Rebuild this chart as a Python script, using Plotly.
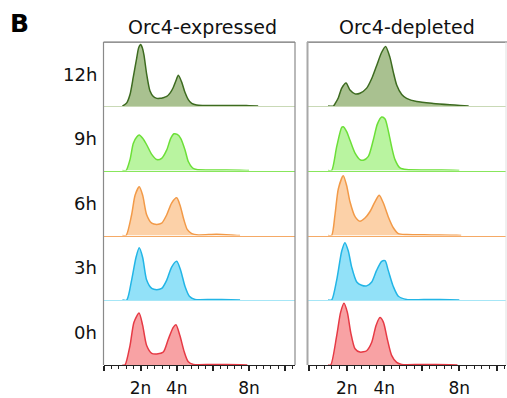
import plotly.graph_objects as go

W, H = 507, 398

TIMES = ["12h", "9h", "6h", "3h", "0h"]
CONDITIONS = ["Orc4-expressed", "Orc4-depleted"]
TICK_VALS = [0, 2, 4, 6, 8, 10]
TICK_TEXT = ["", "2n", "4n", "", "8n", ""]

# DNA content (units of n) and relative cell count
X_EXP_12H = [1.0, 1.24, 1.42, 1.60, 1.79, 1.90, 2.01, 2.10, 2.19, 2.34, 2.52, 2.71, 2.90, 3.08, 3.25, 3.45, 3.65, 3.81, 3.95, 4.09, 4.28, 4.46, 4.64, 4.83, 5.10, 5.5, 6.5, 7.5, 8.0, 8.5]
Y_EXP_12H = [0, 0.05, 0.18, 0.45, 0.75, 0.91, 0.96, 0.91, 0.80, 0.50, 0.24, 0.15, 0.12, 0.12, 0.13, 0.15, 0.21, 0.29, 0.39, 0.48, 0.37, 0.21, 0.10, 0.04, 0.015, 0.01, 0.01, 0.01, 0.005, 0]
X_DEP_12H = [1.0, 1.28, 1.40, 1.55, 1.73, 1.96, 2.17, 2.44, 2.70, 3.06, 3.33, 3.59, 3.86, 4.07, 4.30, 4.48, 4.66, 4.93, 5.19, 5.73, 6.61, 7.50, 8.04, 8.5]
Y_DEP_12H = [0, 0, 0.05, 0.13, 0.28, 0.36, 0.25, 0.19, 0.20, 0.28, 0.43, 0.63, 0.84, 0.93, 0.76, 0.53, 0.33, 0.18, 0.12, 0.07, 0.04, 0.02, 0.01, 0]

X_EXP_9H = [1.0, 1.20, 1.42, 1.60, 1.79, 1.93, 2.12, 2.34, 2.62, 2.90, 3.17, 3.45, 3.67, 3.85, 4.03, 4.22, 4.46, 4.64, 4.88, 5.10, 6.0, 7.5, 8.0]
Y_EXP_9H = [0, 0, 0.17, 0.42, 0.52, 0.55, 0.50, 0.40, 0.25, 0.17, 0.19, 0.32, 0.50, 0.57, 0.56, 0.50, 0.32, 0.14, 0.04, 0.015, 0.01, 0.005, 0]
X_DEP_9H = [1.0, 1.19, 1.46, 1.73, 1.81, 2.00, 2.17, 2.44, 2.70, 2.88, 3.15, 3.41, 3.63, 3.86, 4.04, 4.21, 4.39, 4.57, 4.84, 5.19, 6.5, 7.66, 8.0]
Y_DEP_9H = [0, 0, 0.37, 0.67, 0.68, 0.60, 0.47, 0.27, 0.17, 0.16, 0.22, 0.47, 0.72, 0.83, 0.80, 0.62, 0.37, 0.17, 0.04, 0.015, 0.01, 0.005, 0]

X_EXP_6H = [1.0, 1.20, 1.51, 1.70, 1.93, 2.12, 2.34, 2.62, 2.90, 3.17, 3.45, 3.72, 4.00, 4.18, 4.40, 4.59, 4.83, 5.2, 6.2, 7.0, 7.5]
Y_EXP_6H = [0, 0, 0.32, 0.62, 0.75, 0.62, 0.32, 0.19, 0.17, 0.19, 0.32, 0.50, 0.58, 0.47, 0.24, 0.09, 0.03, 0.01, 0.02, 0.01, 0]
X_DEP_6H = [1.0, 1.19, 1.37, 1.55, 1.81, 1.99, 2.17, 2.44, 2.70, 2.97, 3.24, 3.50, 3.73, 3.95, 4.21, 4.48, 4.75, 5.2, 6.5, 7.86, 8.1]
Y_DEP_6H = [0, 0, 0.32, 0.72, 0.92, 0.77, 0.52, 0.29, 0.22, 0.27, 0.37, 0.52, 0.62, 0.50, 0.29, 0.12, 0.03, 0.015, 0.01, 0.005, 0]

X_EXP_3H = [1.0, 1.24, 1.51, 1.75, 1.93, 2.12, 2.34, 2.62, 2.90, 3.17, 3.45, 3.72, 4.00, 4.22, 4.46, 4.70, 5.01, 6.0, 7.0, 7.5]
Y_EXP_3H = [0, 0, 0.31, 0.66, 0.81, 0.66, 0.31, 0.18, 0.16, 0.18, 0.31, 0.51, 0.60, 0.46, 0.21, 0.06, 0.01, 0.01, 0.005, 0]
X_DEP_3H = [1.0, 1.19, 1.46, 1.73, 1.90, 2.08, 2.26, 2.53, 2.79, 3.06, 3.33, 3.59, 3.86, 4.04, 4.21, 4.48, 4.75, 5.19, 6.5, 7.5, 8.0]
Y_DEP_3H = [0, 0, 0.31, 0.76, 0.89, 0.76, 0.51, 0.28, 0.23, 0.22, 0.28, 0.46, 0.60, 0.61, 0.46, 0.21, 0.06, 0.01, 0.01, 0.005, 0]

X_EXP_0H = [1.0, 1.14, 1.42, 1.64, 1.92, 2.12, 2.34, 2.62, 2.90, 3.26, 3.54, 3.81, 3.96, 4.18, 4.42, 4.64, 4.92, 6.0, 7.5, 7.9]
Y_EXP_0H = [0, 0, 0.30, 0.66, 0.80, 0.61, 0.30, 0.18, 0.17, 0.20, 0.40, 0.58, 0.62, 0.45, 0.20, 0.05, 0.01, 0.01, 0.005, 0]
X_DEP_0H = [1.0, 1.14, 1.46, 1.67, 1.85, 2.03, 2.21, 2.44, 2.70, 3.06, 3.33, 3.56, 3.77, 3.95, 4.16, 4.39, 4.66, 4.93, 6.0, 7.5, 7.9]
Y_DEP_0H = [0, 0, 0.45, 0.81, 0.95, 0.81, 0.50, 0.25, 0.20, 0.22, 0.35, 0.61, 0.73, 0.66, 0.40, 0.15, 0.04, 0.01, 0.01, 0.005, 0]

DATA = [
    [(X_EXP_12H, Y_EXP_12H), (X_DEP_12H, Y_DEP_12H)],
    [(X_EXP_9H, Y_EXP_9H), (X_DEP_9H, Y_DEP_9H)],
    [(X_EXP_6H, Y_EXP_6H), (X_DEP_6H, Y_DEP_6H)],
    [(X_EXP_3H, Y_EXP_3H), (X_DEP_3H, Y_DEP_3H)],
    [(X_EXP_0H, Y_EXP_0H), (X_DEP_0H, Y_DEP_0H)],
]

LINE_COLORS = ["#3d6b20", "#6cdf38", "#f29a48", "#22b5e6", "#e63a45"]
FILL_COLORS = ["#a9c190", "#b9f4a0", "#fcd1a8", "#92e1f8", "#f8a2a4"]
BASE_COLORS = ["#c9d9b6", "#88e65c", "#f5aa66", "#a6e6f6", "#e8404a"]

# pixel layout
def px_x(p):
    return p / W

def px_y(p):
    return 1 - p / H

COL_PX = [(103.5, 295.0), (307.5, 506.0)]
ZERO_PX = [104.3, 309.3]
PX_PER_N = [18.1, 18.75]
ROW_EDGES = [43.0, 108.5, 174.5, 241.0, 307.0, 373.5]

fig = go.Figure()
layout = {}
for r in range(5):
    for c in range(2):
        idx = r * 2 + c + 1
        sfx = "" if idx == 1 else str(idx)
        xs, ys = DATA[r][c]
        fig.add_trace(go.Scatter(
            x=xs, y=ys, mode="lines", line=dict(color=LINE_COLORS[r], width=1.5, shape="spline", smoothing=0.7),
            fill="tozeroy", fillcolor=FILL_COLORS[r], xaxis="x" + sfx, yaxis="y" + sfx,
            showlegend=False, hoverinfo="skip"))
        x0p, x1p = COL_PX[c]
        rng = [(x0p - ZERO_PX[c]) / PX_PER_N[c], (x1p - ZERO_PX[c]) / PX_PER_N[c]]
        xa = dict(domain=[px_x(x0p), px_x(x1p)], range=rng, anchor="y" + sfx,
                  showgrid=False, zeroline=False, showline=True, fixedrange=True)
        if r == 4:
            xa.update(linecolor="#222222", linewidth=1.2, ticks="outside", ticklen=5, tickwidth=1.5,
                      tickcolor="#222222", tickvals=TICK_VALS, ticktext=TICK_TEXT, ticklabelstandoff=2,
                      tickfont=dict(family="DejaVu Sans", size=17, color="#111111"),
                      minor=dict(tick0=0, dtick=0.4, ticks="outside", ticklen=3, tickwidth=1, tickcolor="#222222"))
        else:
            xa.update(linecolor=BASE_COLORS[r], linewidth=1, showticklabels=False, ticks="")
        ya = dict(domain=[px_y(ROW_EDGES[r + 1]), px_y(ROW_EDGES[r])], range=[0, 1.0], anchor="x" + sfx,
                  visible=False, fixedrange=True)
        layout["xaxis" + sfx] = xa
        layout["yaxis" + sfx] = ya

shapes = []
for (xa_, ya_, xb_, yb_, col, wd) in [
    (103.5, 43, 295, 43, "#707070", 1.2),
    (103.5, 43, 103.5, 373.5, "#8a8a8a", 1.2),
    (295, 43, 295, 373.5, "#8a8a8a", 1.2),
    (307, 43, 507, 43, "#707070", 1.2),
    (307.5, 43, 307.5, 373.5, "#a8a8a8", 2),
    (506, 43, 506, 373.5, "#e0e0e0", 1),
]:
    shapes.append(dict(type="line", xref="paper", yref="paper", x0=px_x(xa_), y0=px_y(ya_),
                       x1=px_x(xb_), y1=px_y(yb_), line=dict(color=col, width=wd)))

annotations = [
    dict(text="<b>B</b>", x=px_x(8), y=px_y(24), xanchor="left", yanchor="middle"),
    dict(text=CONDITIONS[0], x=px_x(202), y=px_y(28), xanchor="center", yanchor="middle"),
    dict(text=CONDITIONS[1], x=px_x(407), y=px_y(28), xanchor="center", yanchor="middle"),
]
annotations[0]["font"] = dict(family="DejaVu Sans", size=25, color="#000000")
for a in annotations[1:]:
    a["font"] = dict(family="DejaVu Sans", size=19, color="#111111")
for r, t in enumerate(TIMES):
    yc = (ROW_EDGES[r] + ROW_EDGES[r + 1]) / 2
    annotations.append(dict(text=t, x=px_x(99), y=px_y(yc), xanchor="right", yanchor="middle",
                            font=dict(family="DejaVu Sans", size=18, color="#111111")))
for a in annotations:
    a.update(xref="paper", yref="paper", showarrow=False)

fig.update_layout(width=W, height=H, margin=dict(l=0, r=0, t=0, b=0), paper_bgcolor="white",
                  plot_bgcolor="rgba(0,0,0,0)", shapes=shapes, annotations=annotations, **layout)

fig.write_html("out.html")
